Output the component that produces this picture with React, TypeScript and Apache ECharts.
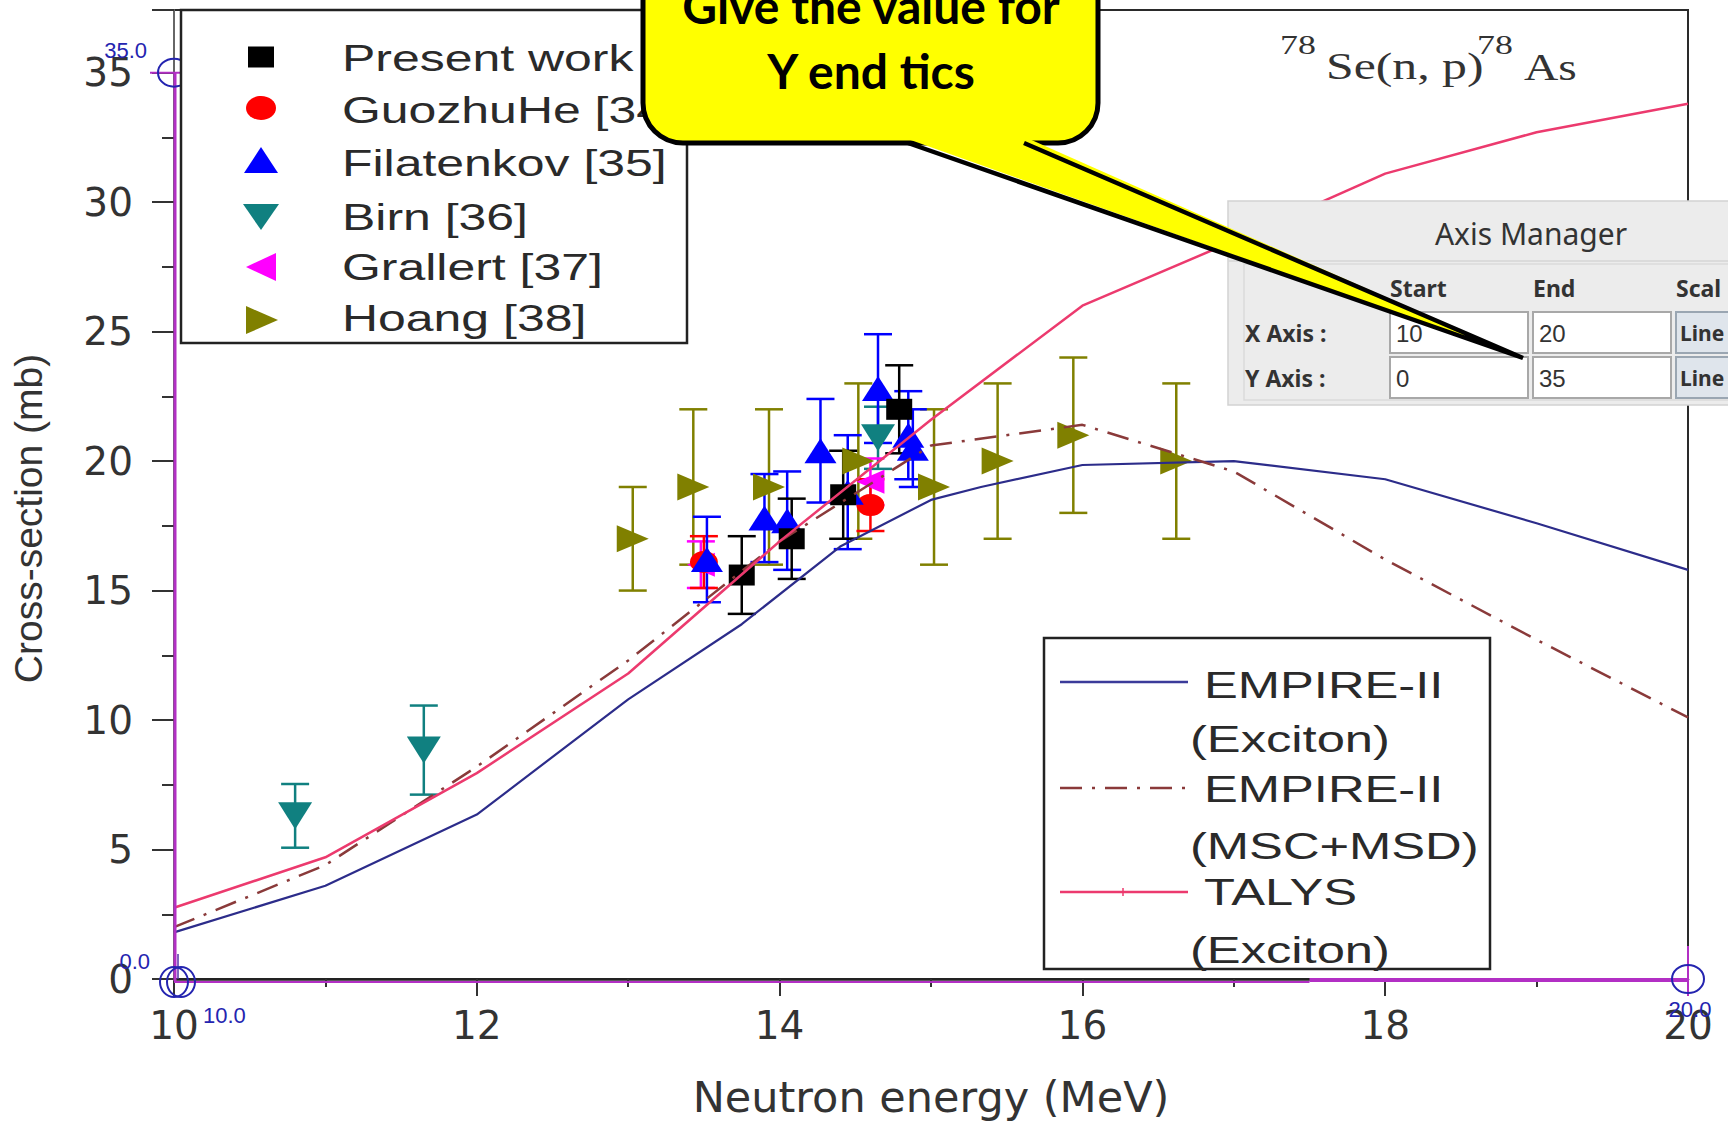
import React, { useEffect, useRef } from "react";
import * as echarts from "echarts";

// ---------- data ----------
const xTicks = [10, 12, 14, 16, 18, 20];
const yTicks = [0, 5, 10, 15, 20, 25, 30, 35];

const empireExcitonX = [10, 11, 12, 13, 13.75, 14.4, 15, 15.33, 16, 17, 18, 19, 20];
const empireExcitonY = [1.8, 3.6, 6.35, 10.8, 13.7, 16.7, 18.5, 19.0, 19.85, 20.0, 19.3, 17.6, 15.8];

const empireMsdX = [10, 11, 12, 13, 14, 15, 16, 17, 18, 19, 20];
const empireMsdY = [2.0, 4.4, 8.2, 12.3, 16.9, 20.6, 21.4, 19.6, 16.2, 13.1, 10.1];

const talysX = [10, 11, 12, 13, 14, 15, 16, 17, 18, 19, 20];
const talysY = [2.75, 4.7, 7.95, 11.8, 16.9, 21.6, 26.0, 28.5, 31.1, 32.7, 33.8];

const presentX = [13.75, 14.08, 14.42, 14.79];
const presentY = [15.6, 17.0, 18.7, 22.0];
const presentErr = [1.5, 1.55, 1.7, 1.7];

const guozhuX = [13.5, 14.6];
const guozhuY = [16.1, 18.3];
const guozhuErr = [1.0, 1.0];

const filatX = [13.52, 13.9, 14.05, 14.27, 14.45, 14.65, 14.85, 14.88];
const filatY = [16.2, 17.8, 17.7, 20.4, 18.8, 22.8, 21.0, 20.5];
const filatErr = [1.65, 1.7, 1.9, 2.0, 2.2, 2.1, 1.7, 1.5];

const birnX = [10.8, 11.65, 14.65];
const birnY = [6.3, 8.84, 20.9];
const birnErr = [1.23, 1.72, 1.2];

const grallertX = [13.48, 14.6];
const grallertY = [16.0, 19.2];
const grallertErr = [0.9, 0.9];

const hoangX = [13.03, 13.43, 13.93, 14.52, 15.02, 15.44, 15.94, 16.62];
const hoangY = [17, 19, 19, 20, 19, 20, 21, 20];
const hoangErr = [2, 3, 3, 3, 3, 3, 3, 3];

const legendScatterLabels = ["Present work", "GuozhuHe [34]", "Filatenkov [35]", "Birn [36]", "Grallert [37]", "Hoang [38]"];
const legendLineLabels = ["EMPIRE-II", "(Exciton)", "EMPIRE-II", "(MSC+MSD)", "TALYS", "(Exciton)"];

// ---------- helpers ----------
const zip = (xs: number[], ys: number[]) => xs.map((x, i) => [x, ys[i]]);
const zip3 = (xs: number[], ys: number[], es: number[]) => xs.map((x, i) => [x, ys[i], es[i]]);

function errorSeries(name: string, xs: number[], ys: number[], es: number[], color: string) {
  return {
    type: "custom",
    name: name + " err",
    z: 2,
    silent: true,
    data: zip3(xs, ys, es),
    encode: { x: 0, y: 1 },
    renderItem: (params: any, api: any) => {
      const x = api.value(0);
      const y = api.value(1);
      const e = api.value(2);
      const top = api.coord([x, y + e]);
      const bot = api.coord([x, y - e]);
      const hw = 14;
      const st = { stroke: color, lineWidth: 2.5 };
      return {
        type: "group",
        children: [
          { type: "line", shape: { x1: top[0], y1: top[1], x2: bot[0], y2: bot[1] }, style: st },
          { type: "line", shape: { x1: top[0] - hw, y1: top[1], x2: top[0] + hw, y2: top[1] }, style: st },
          { type: "line", shape: { x1: bot[0] - hw, y1: bot[1], x2: bot[0] + hw, y2: bot[1] }, style: st },
        ],
      };
    },
  };
}

function scatterSeries(name: string, xs: number[], ys: number[], color: string, symbol: string, size: number[]) {
  return {
    type: "scatter",
    name,
    z: 2,
    data: zip(xs, ys),
    symbol,
    symbolSize: size,
    itemStyle: { color, opacity: 1 },
    silent: true,
  };
}

function T(text: string, x: number, y: number, o: any = {}) {
  const align = o.align ?? "left";
  return {
    type: "text",
    x,
    y,
    scaleX: o.sx ?? 1,
    z: o.z ?? 60,
    silent: true,
    style: {
      text,
      x: 0,
      y: 0,
      fontSize: o.size ?? 37,
      fontFamily: o.family ?? "Liberation Sans",
      fontWeight: o.weight ?? "normal",
      fill: o.fill ?? "#2a2a2a",
      textAlign: align,
      align,
      textVerticalAlign: "middle",
      verticalAlign: "middle",
    },
  };
}

const L = (x1: number, y1: number, x2: number, y2: number, stroke: string, lw: number, z = 50, dash?: number[]) => ({
  type: "line",
  z,
  silent: true,
  shape: { x1, y1, x2, y2 },
  style: dash ? { stroke, lineWidth: lw, lineDash: dash } : { stroke, lineWidth: lw },
});

const R = (x: number, y: number, w: number, h: number, fill: string, stroke: string | null, lw: number, z: number, r = 0) => ({
  type: "rect",
  z,
  silent: true,
  shape: { x, y, width: w, height: h, r },
  style: stroke ? { fill, stroke, lineWidth: lw } : { fill },
});

const TRI_DOWN = "path://M0,0L20,0L10,16Z";
const TRI_LEFT = "path://M16,0L16,20L0,10Z";
const TRI_RIGHT = "path://M0,0L16,10L0,20Z";

function buildOption() {
  const labelColor = "#333";
  return {
    animation: false,
    backgroundColor: "#ffffff",
    grid: { left: 174, right: 40, top: 10, bottom: 143, show: true, borderColor: "#2a2a2a", borderWidth: 2 },
    xAxis: {
      type: "value",
      min: 10,
      max: 20,
      interval: 2,
      axisLine: { show: true, lineStyle: { color: "#222", width: 2.5 } },
      axisTick: { show: true, inside: false, length: 17, lineStyle: { color: "#333", width: 2 } },
      minorTick: { show: true, splitNumber: 2, length: 8, lineStyle: { color: "#333", width: 2 } },
      splitLine: { show: false },
      axisLabel: {
        margin: 27,
        fontSize: 39,
        fontFamily: "DejaVu Sans",
        color: labelColor,
        formatter: (v: number) => (xTicks.includes(v) ? String(v) : ""),
      },
      name: "Neutron energy (MeV)",
      nameLocation: "middle",
      nameGap: 96,
      nameTextStyle: { fontSize: 43, fontFamily: "DejaVu Sans", color: labelColor },
    },
    yAxis: {
      type: "value",
      min: 0,
      max: 37.42,
      interval: 5,
      axisLine: { show: true, lineStyle: { color: "#666", width: 2 } },
      axisTick: { show: true, inside: false, length: 22, lineStyle: { color: "#333", width: 2 } },
      minorTick: { show: true, splitNumber: 2, length: 12, lineStyle: { color: "#333", width: 2 } },
      splitLine: { show: false },
      axisLabel: {
        margin: 41,
        fontSize: 39,
        fontFamily: "DejaVu Sans",
        color: labelColor,
        showMaxLabel: false,
        formatter: (v: number) => (yTicks.includes(v) ? String(v) : ""),
      },
      name: "Cross-section (mb)",
      nameLocation: "middle",
      nameGap: 126,
      nameTextStyle: { fontSize: 39, fontFamily: "Liberation Sans", color: labelColor, padding: [0, 48, 0, 0] },
    },
    series: [
      errorSeries("Hoang [38]", hoangX, hoangY, hoangErr, "#808000"),
      scatterSeries("Hoang [38]", hoangX, hoangY, "#808000", TRI_RIGHT, [32, 27]),
      errorSeries("Birn [36]", birnX, birnY, birnErr, "#108080"),
      scatterSeries("Birn [36]", birnX, birnY, "#108080", TRI_DOWN, [34, 27]),
      errorSeries("Grallert [37]", grallertX, grallertY, grallertErr, "#ff00ff"),
      scatterSeries("Grallert [37]", grallertX, grallertY, "#ff00ff", TRI_LEFT, [28, 24]),
      errorSeries("GuozhuHe [34]", guozhuX, guozhuY, guozhuErr, "#ff0000"),
      scatterSeries("GuozhuHe [34]", guozhuX, guozhuY, "#ff0000", "circle", [28, 22]),
      errorSeries("Filatenkov [35]", filatX, filatY, filatErr, "#0000ff"),
      scatterSeries("Filatenkov [35]", filatX, filatY, "#0000ff", "triangle", [32, 25]),
      errorSeries("Present work", presentX, presentY, presentErr, "#000000"),
      scatterSeries("Present work", presentX, presentY, "#000000", "rect", [26, 21]),
      {
        type: "line",
        name: "EMPIRE-II (Exciton)",
        z: 4,
        data: zip(empireExcitonX, empireExcitonY),
        symbol: "none",
        showSymbol: false,
        lineStyle: { color: "#2c2c8a", width: 2.2 },
        silent: true,
      },
      {
        type: "line",
        name: "EMPIRE-II (MSC+MSD)",
        z: 4,
        data: zip(empireMsdX, empireMsdY),
        symbol: "none",
        showSymbol: false,
        lineStyle: { color: "#8a3a3a", width: 2.5, type: [22, 10, 3, 10] },
        silent: true,
      },
      {
        type: "line",
        name: "TALYS (Exciton)",
        z: 4,
        data: zip(talysX, talysY),
        symbol: "none",
        showSymbol: false,
        lineStyle: { color: "#ec3a6e", width: 2.5 },
        silent: true,
      },
    ],
  };
}

function buildGraphics(chart: any) {
  const p = (x: number, y: number) => chart.convertToPixel({ gridIndex: 0 }, [x, y]) as number[];
  const [x10, y35] = p(10, 35);
  const [, y0] = p(10, 0);
  const [x175] = p(17.5, 0);
  const [x20] = p(20, 0);
  const magenta = "#b22fc4";
  const blue = "#2424b0";
  const els: any[] = [];

  // --- digitizer overlays (magenta lines, blue crosshairs) ---
  els.push(L(x10 + 1, y35, x10 + 1, y0 + 2, magenta, 3, 40));
  els.push(L(x10 - 24, y35, x10 + 31, y35, magenta, 2, 40));
  els.push(L(x10, y0 + 3, x175, y0 + 3, magenta, 2, 40));
  els.push(L(x175, y0 + 1, x20, y0 + 1, magenta, 4, 40));
  els.push(L(x20, y0 - 33, x20, y0 + 17, magenta, 2, 40));
  els.push(L(x10 + 4, y0 - 25, x10 + 4, y0, "#5533aa", 1.5, 41));
  const ell = (cx: number, cy: number, rx: number, ry: number) => ({
    type: "ellipse",
    z: 42,
    silent: true,
    shape: { cx, cy, rx, ry },
    style: { fill: "none", stroke: blue, lineWidth: 2 },
  });
  els.push(ell(x10, y35, 16, 14));
  els.push(ell(x10, y0 + 3, 14, 15));
  els.push(ell(x10 + 7, y0 + 3, 14, 15));
  els.push(ell(x20, y0, 16, 14));
  els.push(T("35.0", x10 - 27, y35 - 22, { size: 22, fill: blue, align: "right", z: 43 }));
  els.push(T("0.0", x10 - 24, y0 - 18, { size: 22, fill: blue, align: "right", z: 43 }));
  els.push(T("10.0", x10 + 29, y0 + 36, { size: 22, fill: blue, align: "left", z: 43 }));
  els.push(T("20.0", x20 + 2, y0 + 30, { size: 22, fill: blue, align: "center", z: 43 }));

  // --- title ---
  els.push(T("78", 1280, 44, { size: 28, family: "Liberation Serif", sx: 1.28, fill: "#333" }));
  els.push(T("Se(n, p)", 1326, 67, { size: 38, family: "Liberation Serif", sx: 1.31, fill: "#333" }));
  els.push(T("78", 1477, 44, { size: 28, family: "Liberation Serif", sx: 1.28, fill: "#333" }));
  els.push(T("As", 1524, 67, { size: 38, family: "Liberation Serif", sx: 1.25, fill: "#333" }));

  // --- legend 1 (scatter) ---
  els.push(R(181, 10, 506, 333, "#ffffff", "#222", 2.5, 55));
  const sx = 261;
  const symY = [57, 108, 160, 217, 267, 320];
  els.push(R(sx - 13, symY[0] - 10.5, 26, 21, "#000", null, 0, 56));
  els.push({ type: "ellipse", z: 56, silent: true, shape: { cx: sx, cy: symY[1], rx: 15, ry: 12 }, style: { fill: "#ff0000" } });
  els.push({ type: "polygon", z: 56, silent: true, shape: { points: [[sx - 17, symY[2] + 13], [sx + 17, symY[2] + 13], [sx, symY[2] - 13]] }, style: { fill: "#0000ff" } });
  els.push({ type: "polygon", z: 56, silent: true, shape: { points: [[sx - 18, symY[3] - 13], [sx + 18, symY[3] - 13], [sx, symY[3] + 13]] }, style: { fill: "#108080" } });
  els.push({ type: "polygon", z: 56, silent: true, shape: { points: [[sx + 15, symY[4] - 14], [sx + 15, symY[4] + 14], [sx - 15, symY[4]]] }, style: { fill: "#ff00ff" } });
  els.push({ type: "polygon", z: 56, silent: true, shape: { points: [[sx - 15, symY[5] - 14], [sx - 15, symY[5] + 14], [sx + 17, symY[5]]] }, style: { fill: "#808000" } });
  const labY = [58, 110, 163, 217, 267, 318];
  legendScatterLabels.forEach((t, i) => els.push(T(t, 342, labY[i], { size: 37, sx: 1.35, z: 57 })));

  // --- legend 2 (lines) ---
  els.push(R(1044, 638, 446, 331, "#ffffff", "#222", 2.5, 55));
  els.push(L(1060, 682, 1188, 682, "#3b3b9a", 2.5, 56));
  els.push(L(1060, 788, 1188, 788, "#8a3a3a", 2.5, 56, [22, 10, 3, 10]));
  els.push(L(1060, 892, 1188, 892, "#ec3a6e", 2.5, 56));
  els.push(L(1123, 888, 1123, 896, "#ec3a6e", 1.5, 56));
  const l2Y = [685, 739, 789, 846, 892, 950];
  const l2X = [1204, 1190, 1204, 1190, 1204, 1190];
  legendLineLabels.forEach((t, i) => els.push(T(t, l2X[i], l2Y[i], { size: 37, sx: 1.37, z: 57 })));

  // --- Axis Manager panel ---
  els.push(R(1228, 201, 520, 204, "#ececec", "#d2d2d2", 1.5, 70));
  els.push(L(1228, 261, 1728, 261, "#d6d6d6", 1.5, 71));
  els.push(R(1244, 264, 500, 136, "none", "#dadada", 1.5, 71));
  els.push(T("Axis Manager", 1531, 233, { size: 30, family: "Noto Sans", fill: "#333", align: "center", z: 72 }));
  els.push(T("Start", 1390, 288, { size: 23, family: "Noto Sans", weight: "bold", fill: "#333", z: 72 }));
  els.push(T("End", 1533, 288, { size: 23, family: "Noto Sans", weight: "bold", fill: "#333", z: 72 }));
  els.push(T("Scal", 1676, 288, { size: 23, family: "Noto Sans", weight: "bold", fill: "#333", z: 72 }));
  els.push(T("X Axis :", 1245, 333, { size: 23, family: "Noto Sans", weight: "bold", fill: "#333", z: 72 }));
  els.push(T("Y Axis :", 1245, 378, { size: 23, family: "Noto Sans", weight: "bold", fill: "#333", z: 72 }));
  [312, 357].forEach((yy) => {
    els.push(R(1390, yy, 138, 41, "#ffffff", "#a8a8a8", 2, 71));
    els.push(R(1533, yy, 138, 41, "#ffffff", "#a8a8a8", 2, 71));
    els.push(R(1676, yy, 70, 41, "#dfe5ec", "#9aa6b2", 2, 71));
  });
  els.push(T("10", 1396, 333, { size: 24, fill: "#333", z: 72 }));
  els.push(T("20", 1539, 333, { size: 24, fill: "#333", z: 72 }));
  els.push(T("0", 1396, 378, { size: 24, fill: "#333", z: 72 }));
  els.push(T("35", 1539, 378, { size: 24, fill: "#333", z: 72 }));
  els.push(T("Line", 1680, 333, { size: 21, family: "Noto Sans", weight: "bold", fill: "#333", z: 72 }));
  els.push(T("Line", 1680, 378, { size: 21, family: "Noto Sans", weight: "bold", fill: "#333", z: 72 }));

  // --- yellow callout ---
  els.push(R(643, -80, 455, 223, "#ffff00", "#000000", 5, 80, 40));
  els.push({ type: "polygon", z: 81, silent: true, shape: { points: [[905, 138], [1523, 358], [1027, 138]] }, style: { fill: "#ffff00" } });
  els.push({ type: "polyline", z: 82, silent: true, shape: { points: [[908, 143], [1523, 358], [1024, 143]] }, style: { fill: "none", stroke: "#000", lineWidth: 4.5, lineJoin: "miter" } });
  els.push(T("Give the value for", 871, 5, { size: 48, family: "Lato", weight: "bold", fill: "#000", align: "center", z: 83 }));
  els.push(T("Y end tics", 871, 70, { size: 48, family: "Lato", weight: "bold", fill: "#000", align: "center", z: 83 }));

  return els;
}

export default function App() {
  const ref = useRef<HTMLDivElement>(null);
  useEffect(() => {
    const el = ref.current;
    if (!el) return;
    const chart = echarts.init(el, null, { renderer: "svg" });
    chart.setOption(buildOption() as any);
    chart.setOption({ graphic: { elements: buildGraphics(chart) } } as any);
    return () => chart.dispose();
  }, []);
  return (
    <div
      ref={ref}
      style={{ position: "absolute", left: 0, top: 0, width: 1728, height: 1123, background: "#fff", overflow: "hidden" }}
    />
  );
}
